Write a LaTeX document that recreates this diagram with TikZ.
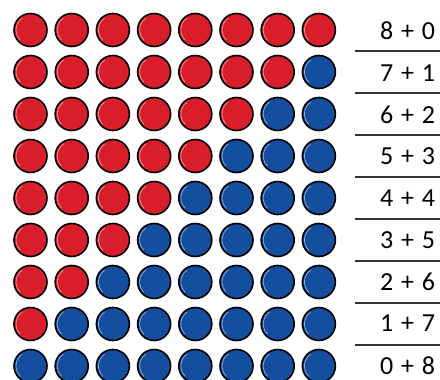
\documentclass[tikz,border=0pt]{standalone}
\usepackage{fontspec}
\setmainfont{Carlito}
\usetikzlibrary{calc}

\tikzset{
  counter/.style={circle,draw=black,line width=1.6pt,minimum size=33pt,inner sep=0pt},
  sumtext/.style={font=\fontsize{26}{28}\selectfont,inner sep=0pt,anchor=center},
  rule/.style={line width=1.3pt,draw=black!80}
}

\begin{document}
\begin{tikzpicture}[x=1pt,y=1pt]
    \definecolor{red1}{RGB}{216, 30, 42}
    \definecolor{blue1}{RGB}{20, 78, 158}

    \useasboundingbox (0,0) rectangle (440,-380);

    % counters: row r has 8-r red ones
    \foreach \r in {0,...,8} {
      \foreach \c in {0,...,7} {
        \pgfmathtruncatemacro{\nred}{8-\r}
        \ifnum\c<\nred
          \def\col{red1}
        \else
          \def\col{blue1}
        \fi
        \node[counter,fill=\col] (c-\r-\c) at (30.5+41.2*\c,-30-42*\r) {};
        \draw[white,opacity=.55,line width=.7pt] ($(c-\r-\c)+(125:14.5)$) arc[start angle=125,end angle=225,radius=14.5];
      }
    }

    % sums
    \foreach \r in {0,...,8} {
      \pgfmathtruncatemacro{\nred}{8-\r}
      \node[sumtext] (s-\r) at (407.5,-31-41.8*\r) {\nred\hspace{.3em}+\hspace{.3em}\r};
    }

    % rules between the sums
    \foreach \r in {0,...,7} {
      \coordinate (l-\r) at (355,-51-42*\r);
      \coordinate (r-\r) at (440,-51-42*\r);
      \draw[rule] (l-\r) -- (r-\r);
    }
  \end{tikzpicture}
\end{document}
